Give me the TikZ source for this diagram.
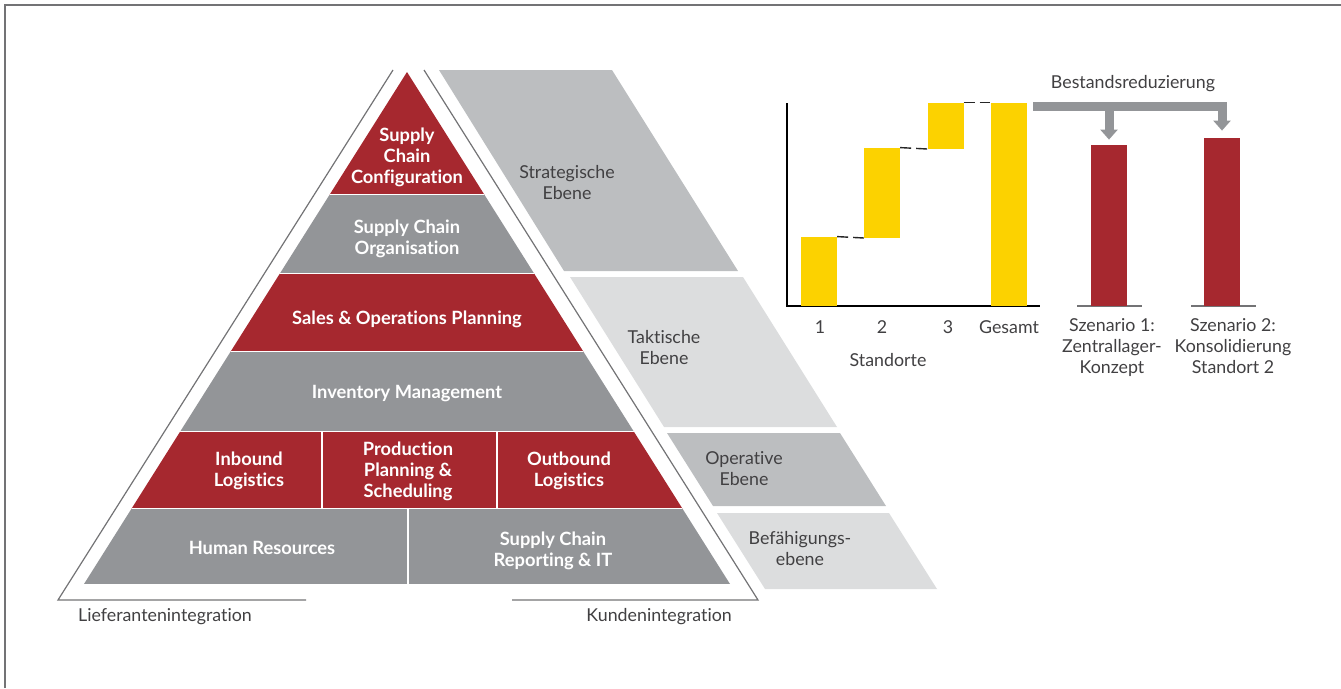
\documentclass[tikz,border=0pt]{standalone}
\usepackage{fontspec}
\setmainfont{Lato}[Ligatures=NoCommon]
\usetikzlibrary{arrows.meta}

\definecolor{pyrred}{RGB}{166,40,47}
\definecolor{pyrgray}{RGB}{147,149,152}
\definecolor{levelgray}{RGB}{188,190,192}
\definecolor{levellight}{RGB}{220,221,222}
\definecolor{chartyellow}{RGB}{252,210,0}
\definecolor{textgray}{RGB}{65,64,66}
\definecolor{linegray}{RGB}{115,115,117}

\begin{document}
\begin{tikzpicture}[x=1pt,y=-1pt]
\tikzstyle{block}=[text=white,font=\bfseries\fontsize{18.3}{21}\selectfont,align=center,inner sep=0pt]
\tikzstyle{level}=[text=textgray,font=\fontsize{17.8}{21}\selectfont,align=center,inner sep=0pt]
\tikzstyle{bar}=[minimum width=36pt,inner sep=0pt,anchor=south]
\tikzstyle{sitebar}=[bar,fill=chartyellow]
\tikzstyle{scenbar}=[bar,fill=pyrred]
\tikzstyle{gap}=[draw=black!85,line width=1.4pt,dash pattern=on 11pt off 5pt]
\tikzstyle{reduce}=[draw=pyrgray,line width=9pt,-{Triangle[width=17pt,length=10pt]}]
\tikzstyle{divider}=[white,line width=1.3pt]

\useasboundingbox (0,0) rectangle (1341,688);
\draw[linegray,line width=1.5pt] (5,688) -- (5,5) -- (1341,5);

%outer frame of the pyramid.
\draw[linegray,line width=1.2pt] (393,70) -- (58,600) -- (306,600);
\draw[linegray,line width=1.2pt] (512,600) -- (758,600) -- (424,70);

%pyramid bands.
\begin{scope}
\clip (407,72) -- (84,584) -- (730,584) -- cycle;
\fill[pyrred] (0,72) rectangle (800,194.5);
\fill[pyrgray] (0,194.5) rectangle (800,273.5);
\fill[pyrred] (0,273.5) rectangle (800,351.5);
\fill[pyrgray] (0,351.5) rectangle (800,431.5);
\fill[pyrred] (0,431.5) rectangle (800,508.5);
\fill[pyrgray] (0,508.5) rectangle (800,584);
\foreach \y in {194.5,273.5,351.5,431.5,508.5}
  \draw[divider] (0,\y) -- (800,\y);
\draw[divider] (322,431.5) -- (322,508.5);
\draw[divider] (497,431.5) -- (497,508.5);
\draw[divider] (408,508.5) -- (408,584);
\end{scope}

\node[block] (sc_config) at (407,157) {Supply\\Chain\\Configuration};
\node[block] (sc_org) at (407,239) {Supply Chain\\Organisation};
\node[block] (sop) at (407,319) {Sales \& Operations Planning};
\node[block] (inventory) at (407,394) {Inventory Management};
\node[block] (inbound) at (249,471) {Inbound\\Logistics};
\node[block] (production) at (408,471) {Production\\Planning \&\\Scheduling};
\node[block] (outbound) at (569,471) {Outbound\\Logistics};
\node[block] (hr) at (262,548) {Human Resources};
\node[block] (reporting) at (553,551) {Supply Chain\\Reporting \& IT};

%planning levels.
\fill[levelgray] (439,70) -- (612,70) -- (738,271) -- (564,271) -- cycle;
\fill[levellight] (570,277) -- (743,277) -- (837,427) -- (664,427) -- cycle;
\fill[levelgray] (667,433) -- (840,433) -- (886,506) -- (713,506) -- cycle;
\fill[levellight] (717,513) -- (889,513) -- (937,589) -- (765,589) -- cycle;

\node[level] (strategic) at (567,183) {Strategische\\Ebene};
\node[level] (tactical) at (664,348) {Taktische\\Ebene};
\node[level] (operative) at (744,469) {Operative\\Ebene};
\node[level] (enabling) at (800,549) {Befähigungs-\\ebene};

\node[level,anchor=base west] (suppliers) at (78,621) {Lieferantenintegration};
\node[level,anchor=base east] (customers) at (732,621) {Kundenintegration};

%waterfall over the sites.
\draw[black,line width=1.3pt] (787,103) -- (787,306) -- (1040,306);
\node[sitebar,minimum height=69pt] (site1) at (819,306) {};
\node[sitebar,minimum height=90pt] (site2) at (882,238) {};
\node[sitebar,minimum height=46pt] (site3) at (945.5,149) {};
\node[sitebar,minimum height=203pt] (total) at (1008.5,306) {};
\draw[gap] (site1.north east) -- (site2.south west);
\draw[gap] (site2.north east) -- (site3.south west);
\draw[gap] (site3.north east) -- (total.north west);

\node[level,anchor=base] (site1_lbl) at (820,333) {1};
\node[level,anchor=base] (site2_lbl) at (882,333) {2};
\node[level,anchor=base] (site3_lbl) at (948,333) {3};
\node[level,anchor=base] (total_lbl) at (1009,333) {Gesamt};
\node[level,anchor=base] (sites) at (888,366) {Standorte};

%scenarios.
\draw[linegray,line width=1.5pt] (1077,306) -- (1142,306);
\draw[linegray,line width=1.5pt] (1191,306) -- (1256,306);
\node[scenbar,minimum height=161pt] (scen1) at (1109,306) {};
\node[scenbar,minimum height=168pt] (scen2) at (1222,306) {};

\coordinate (reduce_start) at (1033,106);
\draw[reduce] (reduce_start) -| ([yshift=7pt]scen2.north);
\draw[reduce] (reduce_start -| scen1.north) -- ([yshift=5pt]scen1.north);
\node[level,anchor=base] (reduction) at (1133,88) {Bestandsreduzierung};

\node[level,anchor=north] (scen1_lbl) at (1112,318) {Szenario 1:\\Zentrallager-\\Konzept};
\node[level,anchor=north] (scen2_lbl) at (1233,318) {Szenario 2:\\Konsolidierung\\Standort 2};

\end{tikzpicture}
\end{document}
